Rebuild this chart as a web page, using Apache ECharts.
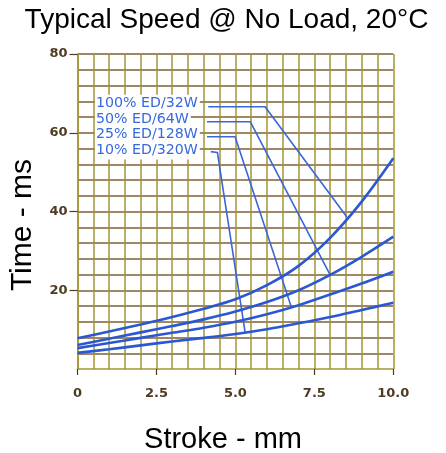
<!DOCTYPE html>
<html>
<head>
<meta charset="utf-8">
<script src="https://cdn.jsdelivr.net/npm/echarts@6/dist/echarts.min.js"></script>
<style>html,body{margin:0;padding:0;background:#fff}#c{width:446px;height:453px}</style>
</head>
<body>
<div id="c"></div>
<script>
// ---- data ----
const strokes = [0, 1, 2, 3, 4, 5, 6, 7, 8, 9, 10];
const curve100 = [7.8, 9.5, 11.3, 13.2, 15.3, 17.7, 21.3, 26.2, 33.3, 42.5, 53.5];
const curve50  = [6.1, 7.7, 9.3, 10.9, 12.6, 14.6, 17.0, 20.0, 23.9, 28.5, 33.6];
const curve25  = [5.3, 6.6, 7.9, 9.2, 10.5, 12.0, 13.9, 16.2, 18.9, 21.7, 24.7];
const curve10  = [4.1, 5.0, 6.0, 7.0, 7.9, 8.9, 10.1, 11.6, 13.2, 15.0, 16.8];
const knee100 = [[4.14, 66.6], [5.94, 66.6], [8.53, 38.6]];
const knee50  = [[4.10, 62.8], [5.47, 62.8], [8.00, 23.9]];
const knee25  = [[4.10, 59.0], [4.99, 59.0], [6.76, 16.0]];
const knee10  = [[4.22, 55.2], [4.43, 55.0], [5.31, 9.2]];
const seriesNames = ['100% ED/32W', '50% ED/64W', '25% ED/128W', '10% ED/320W'];
const xTickLabels = ['0', '2.5', '5.0', '7.5', '10.0'];
const yTickValues = [20, 40, 60, 80];

const pair = (ys) => strokes.map((x, i) => [x, ys[i]]);
const curveColor = '#2b58d2';
const kneeColor = '#3a66da';
const vGrid = '#a39535';
const hGrid = '#7d6033';
const labelColor = '#4f3b22';

const chart = echarts.init(document.getElementById('c'), null, {renderer: 'canvas'});

const curves = [curve100, curve50, curve25, curve10].map((c, i) => ({
  name: seriesNames[i] + ' curve', type: 'line', data: pair(c), smooth: 0.3,
  symbol: 'none', lineStyle: {color: curveColor, width: 2.6}, z: 5
}));
const knees = [knee100, knee50, knee25, knee10].map((k, i) => ({
  name: seriesNames[i], type: 'line', data: k, symbol: 'none',
  lineStyle: {color: kneeColor, width: 1.6}, z: 4
}));

const legendTexts = [103.3, 118.6, 134.0, 150.0].map((y, i) => ({
  type: 'text', left: 95, top: y - 8.5, z: 10,
  style: {
    text: seriesNames[i], fill: '#3668de', font: '14.2px "DejaVu Sans"',
    backgroundColor: '#fff', padding: [2, 2, 2, 1]
  }
}));

chart.setOption({
  animation: false,
  grid: {left: 77.5, top: 54, width: 315.8, height: 315},
  xAxis: {
    type: 'value', min: 0, max: 10, interval: 2.5,
    axisLine: {show: true, lineStyle: {color: vGrid, width: 1.5}},
    axisTick: {show: true, length: 6, lineStyle: {color: labelColor, width: 1.2}},
    axisLabel: {
      margin: 18, color: labelColor, fontFamily: 'DejaVu Sans', fontWeight: 'bold', fontSize: 13,
      formatter: (v) => xTickLabels[Math.round(v / 2.5)]
    },
    splitLine: {show: true, lineStyle: {color: vGrid, width: 1.5}},
    minorTick: {show: true, splitNumber: 5, length: 0},
    minorSplitLine: {show: true, lineStyle: {color: vGrid, width: 1.5}}
  },
  yAxis: {
    type: 'value', min: 0, max: 80, interval: 20,
    axisLine: {show: true, lineStyle: {color: vGrid, width: 1.5}},
    axisTick: {show: true, length: 8, customValues: yTickValues, lineStyle: {color: labelColor, width: 1.2}},
    axisLabel: {
      margin: 10, color: labelColor, fontFamily: 'DejaVu Sans', fontWeight: 'bold', fontSize: 13,
      showMinLabel: false
    },
    splitLine: {show: true, lineStyle: {color: hGrid, width: 1.5}},
    minorTick: {show: true, splitNumber: 5, length: 0},
    minorSplitLine: {show: true, lineStyle: {color: hGrid, width: 1.5}}
  },
  graphic: [
    {type: 'text', x: 226.5, y: 20, style: {text: 'Typical Speed @ No Load, 20°C', fill: '#000',
      font: '28px "Liberation Sans"', textAlign: 'center', textVerticalAlign: 'middle'}},
    {type: 'text', x: 223, y: 440, style: {text: 'Stroke - mm', fill: '#000',
      font: '29px "Liberation Sans"', textAlign: 'center', textVerticalAlign: 'middle'}},
    {type: 'text', x: 23, y: 225, rotation: Math.PI / 2, style: {text: 'Time - ms', fill: '#000',
      font: '30px "Liberation Sans"', textAlign: 'center', textVerticalAlign: 'middle'}}
  ].concat(legendTexts),
  series: curves.concat(knees)
});
</script>
</body>
</html>
